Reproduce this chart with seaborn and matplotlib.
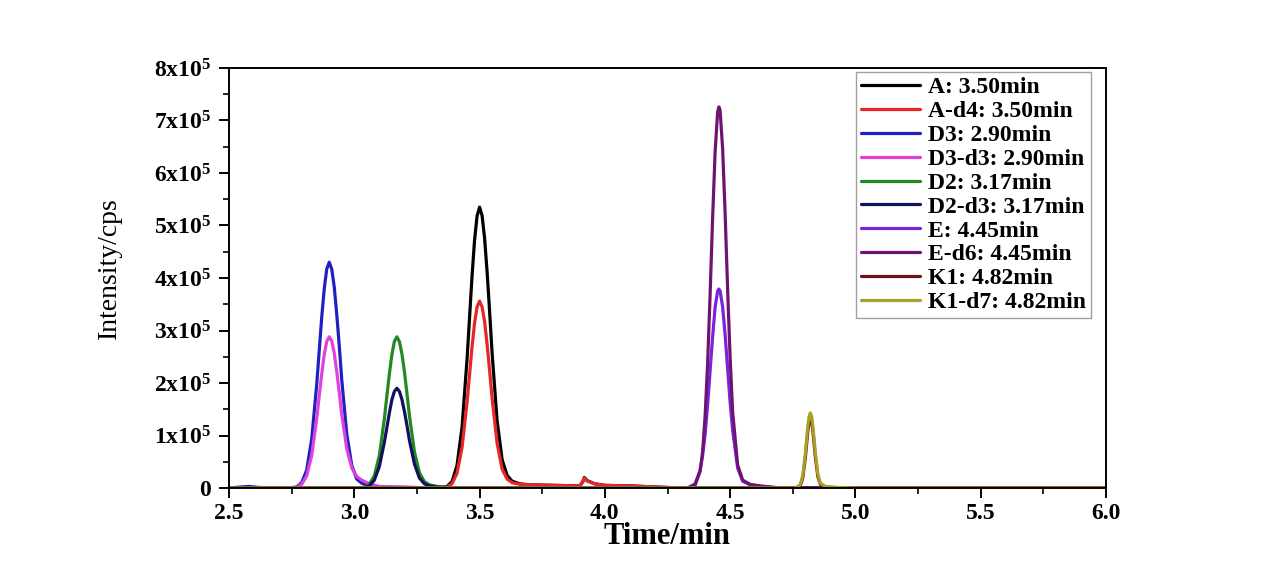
import numpy as np
import pandas as pd
import seaborn as sns
import matplotlib
matplotlib.use("Agg")
import matplotlib.pyplot as plt
from matplotlib.ticker import FixedLocator, FixedFormatter, MultipleLocator

# chromatogram traces, intensity in units of 1e5 cps
t_d3 = [2.55, 2.58, 2.62, 2.70, 2.74, 2.77, 2.79, 2.81, 2.83, 2.85, 2.86, 2.87, 2.88,
        2.89, 2.90, 2.91, 2.92, 2.93, 2.94, 2.95, 2.97, 2.99, 3.01, 3.03, 3.06,
        3.10, 3.20, 3.30]
d3 = [0.02, 0.03, 0.01, 0, 0.00, 0.02, 0.10, 0.34, 0.93, 1.97, 2.61, 3.25, 3.79,
      4.17, 4.30, 4.17, 3.83, 3.31, 2.71, 2.06, 1.03, 0.43, 0.17, 0.09, 0.04,
      0.02, 0, 0]
d3_d3 = [0, 0, 0, 0, 0.00, 0.01, 0.07, 0.23, 0.62, 1.32, 1.75, 2.17, 2.54,
         2.79, 2.88, 2.80, 2.57, 2.22, 1.82, 1.40, 0.75, 0.38, 0.22, 0.15, 0.08,
         0.03, 0.02, 0]

t_d2 = [3.01, 3.04, 3.06, 3.08, 3.10, 3.12, 3.13, 3.14, 3.15, 3.16, 3.17, 3.18,
        3.19, 3.20, 3.21, 3.22, 3.24, 3.26, 3.28, 3.30, 3.33, 3.37, 3.45]
d2 = [0, 0.01, 0.07, 0.23, 0.62, 1.32, 1.75, 2.17, 2.54, 2.79, 2.88, 2.79,
      2.56, 2.22, 1.81, 1.38, 0.69, 0.29, 0.12, 0.06, 0.03, 0.01, 0]
d2_d3 = [0, 0.01, 0.04, 0.15, 0.41, 0.87, 1.15, 1.43, 1.68, 1.84, 1.90, 1.84,
         1.69, 1.46, 1.20, 0.91, 0.46, 0.19, 0.08, 0.04, 0.02, 0.01, 0]

t_a = [3.34, 3.37, 3.39, 3.41, 3.43, 3.45, 3.46, 3.47, 3.48, 3.49, 3.50, 3.51,
       3.52, 3.53, 3.54, 3.55, 3.57, 3.59, 3.61, 3.63, 3.66, 3.70, 3.80, 3.90,
       3.912, 3.918, 3.93, 3.96, 4.00, 4.10, 4.20, 4.30]
a = [0.00, 0.03, 0.12, 0.43, 1.16, 2.45, 3.25, 4.04, 4.72, 5.18, 5.35, 5.19,
     4.76, 4.12, 3.37, 2.57, 1.28, 0.54, 0.24, 0.13, 0.08, 0.06, 0.05, 0.04,
     0.12, 0.20, 0.14, 0.08, 0.05, 0.04, 0.02, 0]
a_d4 = [0.00, 0.02, 0.08, 0.28, 0.77, 1.63, 2.16, 2.69, 3.14, 3.45, 3.56, 3.45,
        3.17, 2.74, 2.24, 1.71, 0.85, 0.36, 0.17, 0.10, 0.07, 0.06, 0.05, 0.04,
        0.12, 0.19, 0.13, 0.08, 0.05, 0.04, 0.02, 0]

t_e = [4.33, 4.36, 4.38, 4.39, 4.40, 4.41, 4.42, 4.43, 4.44, 4.45, 4.455, 4.46,
       4.47, 4.48, 4.49, 4.50, 4.51, 4.53, 4.55, 4.58, 4.62, 4.70]
e = [0, 0.08, 0.33, 0.61, 1.02, 1.58, 2.23, 2.88, 3.44, 3.75, 3.79, 3.75,
     3.45, 2.92, 2.27, 1.63, 1.10, 0.38, 0.13, 0.06, 0.03, 0]
e_d6 = [0, 0.05, 0.32, 0.69, 1.36, 2.36, 3.68, 5.13, 6.40, 7.16, 7.26, 7.19,
        6.46, 5.23, 3.78, 2.47, 1.45, 0.44, 0.15, 0.07, 0.04, 0]

t_k1 = [4.76, 4.78, 4.79, 4.80, 4.805, 4.81, 4.815, 4.82, 4.825, 4.83, 4.835,
        4.84, 4.85, 4.86, 4.88, 4.92, 5.00]
k1 = [0, 0.04, 0.20, 0.57, 0.83, 1.08, 1.26, 1.33, 1.27, 1.09, 0.85,
      0.59, 0.22, 0.07, 0.02, 0.01, 0]
k1_d7 = [0, 0.06, 0.25, 0.65, 0.92, 1.18, 1.36, 1.43, 1.37, 1.19, 0.94,
         0.67, 0.27, 0.09, 0.03, 0.01, 0]

labels = ["A: 3.50min", "A-d4: 3.50min", "D3: 2.90min", "D3-d3: 2.90min",
          "D2: 3.17min", "D2-d3: 3.17min", "E: 4.45min", "E-d6: 4.45min",
          "K1: 4.82min", "K1-d7: 4.82min"]
colors = ["#000000", "#e8262a", "#2020c0", "#e040e0", "#208a20",
          "#10105e", "#7a22dc", "#6e1470", "#701014", "#a8a028"]

y_ticks = [0, 1, 2, 3, 4, 5, 6, 7, 8]
y_tick_labels = ["0"] + ["%dx10$^5$" % v for v in y_ticks[1:]]
x_ticks = [2.5, 3.0, 3.5, 4.0, 4.5, 5.0, 5.5, 6.0]

series = [(t_a, a), (t_a, a_d4), (t_d3, d3), (t_d3, d3_d3), (t_d2, d2),
          (t_d2, d2_d3), (t_e, e), (t_e, e_d6), (t_k1, k1), (t_k1, k1_d7)]

rows = []
for lab, (tt, yy) in zip(labels, series):
    tt = [2.5] + list(tt) + [6.0]
    yy = [0] + list(yy) + [0]
    for ti, yi in zip(tt, yy):
        rows.append({"time": ti, "intensity": yi * 1e5, "compound": lab})
df = pd.DataFrame(rows)

sns.set_theme(style="ticks")
plt.rcParams["font.family"] = ["Liberation Serif", "DejaVu Serif"]
plt.rcParams["mathtext.fontset"] = "custom"
plt.rcParams["mathtext.rm"] = "Liberation Serif:bold"
plt.rcParams["mathtext.bf"] = "Liberation Serif:bold"
plt.rcParams["mathtext.default"] = "bf"
plt.rcParams["text.color"] = "black"
plt.rcParams["axes.labelcolor"] = "black"

fig = plt.figure(figsize=(12.85, 5.85), dpi=100)
ax = fig.add_axes([229 / 1285, 97 / 585, 877 / 1285, 420 / 585])

sns.lineplot(data=df, x="time", y="intensity", hue="compound", hue_order=labels,
             palette=colors, estimator=None, sort=False, linewidth=2.3, ax=ax)

ax.set_xlim(2.5, 6.0)
ax.set_ylim(0, 8e5)
ax.xaxis.set_major_locator(FixedLocator(x_ticks))
ax.xaxis.set_minor_locator(MultipleLocator(0.25))
ax.yaxis.set_major_locator(FixedLocator([v * 1e5 for v in y_ticks]))
ax.yaxis.set_major_formatter(FixedFormatter(y_tick_labels))
ax.yaxis.set_minor_locator(MultipleLocator(0.5e5))
ax.set_xticklabels(["%.1f" % v for v in x_ticks])

for sp in ax.spines.values():
    sp.set_visible(True)
    sp.set_linewidth(1.4)
    sp.set_color("black")
ax.tick_params(which="major", direction="out", length=7, width=1.4, colors="black")
ax.tick_params(axis="x", which="major", labelsize=17, pad=4)
ax.tick_params(axis="y", which="major", labelsize=17, pad=6)
ax.tick_params(which="minor", direction="out", length=4, width=1.2, colors="black")
for lbl in ax.get_xticklabels() + ax.get_yticklabels():
    lbl.set_fontweight("bold")

ax.set_xlabel("Time/min", fontsize=22, fontweight="bold", labelpad=-2)
ax.set_ylabel("Intensity/cps", fontsize=20)
ax.yaxis.set_label_coords(-0.122, 0.524)

leg = ax.legend(loc="upper right", bbox_to_anchor=(1091 / 1285, 513 / 585),
                bbox_transform=fig.transFigure, borderaxespad=0, frameon=True,
                fancybox=False, edgecolor="#888888", handlelength=2.5,
                handletextpad=0.35, labelspacing=0.1, borderpad=0.2,
                prop={"family": "Liberation Serif", "weight": "bold", "size": 17})
leg.get_frame().set_linewidth(1.0)

fig.savefig("out.png", dpi=100, facecolor="white")
